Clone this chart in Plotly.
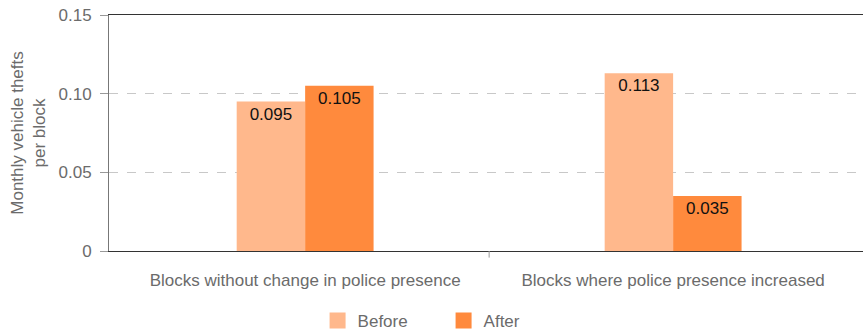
import plotly.graph_objects as go

categories = ["Blocks without change in police presence", "Blocks where police presence increased"]
before = [0.095, 0.113]
after = [0.105, 0.035]
before_labels = ["0.095", "0.113"]
after_labels = ["0.105", "0.035"]
y_ticks = [0, 0.05, 0.10, 0.15]
y_ticklabels = ["0", "0.05", "0.10", "0.15"]

FONT = "Liberation Sans"
GREY = "#6b6b6b"
C_BEFORE = "#FFB88C"
C_AFTER = "#FF8A3D"

fig = go.Figure()
fig.add_trace(go.Bar(
    name="Before", x=categories, y=before, text=before_labels, showlegend=False,
    marker=dict(color=C_BEFORE, line=dict(width=0)),
    textposition="inside", insidetextanchor="end",
    textfont=dict(family=FONT, size=17, color="#111111"),
))
fig.add_trace(go.Bar(
    name="After", x=categories, y=after, text=after_labels, showlegend=False,
    marker=dict(color=C_AFTER, line=dict(width=0)),
    textposition="inside", insidetextanchor="end",
    textfont=dict(family=FONT, size=17, color="#111111"),
))
# legend-only entries with larger square swatches
for name, col in [("Before", C_BEFORE), ("After", C_AFTER)]:
    fig.add_trace(go.Scatter(
        name=name, x=[None], y=[None], mode="markers",
        marker=dict(symbol="square", size=17, color=col, line=dict(width=0)),
    ))

fig.add_shape(type="line", xref="x", yref="paper", x0=0.5, x1=0.5, y0=0, y1=-0.028,
              line=dict(color="#999999", width=1))

fig.update_layout(
    width=863, height=331,
    margin=dict(l=109, r=0, t=15, b=80, autoexpand=False),
    paper_bgcolor="white", plot_bgcolor="white",
    barmode="group", bargap=0.628, bargroupgap=0,
    font=dict(family=FONT, size=17, color=GREY),
    legend=dict(orientation="h", xref="container", x=0.514, xanchor="center",
                yref="container", y=0.03, yanchor="middle",
                font=dict(family=FONT, size=17, color=GREY), entrywidth=81,
                traceorder="normal"),
    uniformtext=dict(mode=False),
)
fig.update_xaxes(
    range=[-0.533, 1.516], showline=True, linecolor="#333333", linewidth=1,
    mirror=True, ticks="", showgrid=False, automargin=False, ticklabelstandoff=14,
    tickfont=dict(family=FONT, size=17, color=GREY),
)
fig.update_yaxes(
    range=[0, 0.15], tickvals=y_ticks, ticktext=y_ticklabels,
    showline=True, linecolor="#777777", linewidth=1,
    ticks="outside", ticklen=8, tickcolor="#999999", ticklabelstandoff=5,
    showgrid=True, gridcolor="#c8c8c8", griddash="dash", gridwidth=1,
    zeroline=False, automargin=False,
    tickfont=dict(family=FONT, size=17, color=GREY),
    title=dict(text="Monthly vehicle thefts<br>per block", font=dict(family=FONT, size=17, color=GREY), standoff=8),
)

fig.write_html("out.html", config={"displayModeBar": False},
               post_script="document.body.style.margin='0';document.body.style.overflow='hidden';")
